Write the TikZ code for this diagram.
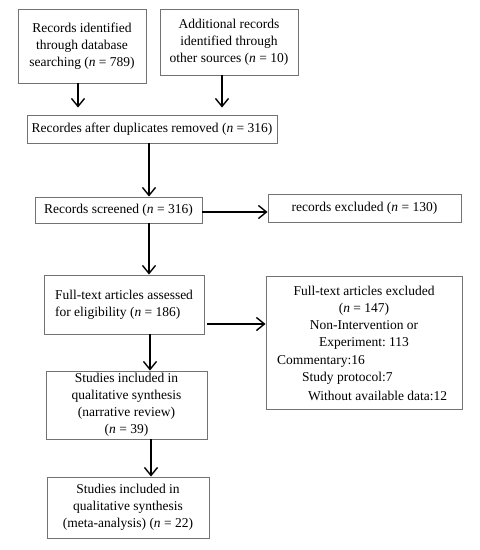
\documentclass[tikz,border=0pt]{standalone}
\usepackage{fontspec}
\setmainfont{Liberation Serif}
\usetikzlibrary{arrows.meta,calc}
\frenchspacing
\begin{document}
\begin{tikzpicture}[x=1pt,y=-1pt,
  box/.style={draw=black!55,line width=0.9pt,inner sep=0pt,font=\fontsize{13.5}{17}\selectfont},
  txt/.style={inner sep=0pt,font=\fontsize{13.5}{17}\selectfont},
  arr/.style={draw=black,line width=1.4pt,-{Straight Barb[length=8pt,width=13pt,line width=1.4pt]}}]
\useasboundingbox (0,0) rectangle (480,550);
\fill[white] (0,0) rectangle (480,550);
\node[box,minimum width=128pt,minimum height=74pt,align=center] (b1) at (82,46)
  {Records identified\\through database\\searching (\textit{n} = 789)};
\node[box,minimum width=138pt,minimum height=66pt,align=center] (b2) at (229,42)
  {Additional records\\identified through\\other sources (\textit{n} = 10)};
\node[box,minimum width=250pt,minimum height=28pt] (b3) at (152,129)
  {Recordes after duplicates removed (\textit{n} = 316)};
\node[box,minimum width=167pt,minimum height=26pt] (b4) at (118.5,210)
  {Records screened (\textit{n} = 316)};
\node[box,minimum width=193pt,minimum height=28pt] (e1) at (364.5,208)
  {records excluded (\textit{n} = 130)};
\node[box,minimum width=160pt,minimum height=59pt,align=left] (b5) at (124,304.5)
  {Full-text articles assessed\\for eligibility (\textit{n} = 186)};
\node[box,minimum width=196pt,minimum height=133pt] (e2) at (364,342.5) {};
\node[txt,align=center] (e2a) at (364,318)
  {Full-text articles excluded\\(\textit{n} = 147)\\Non-Intervention or\\Experiment: 113};
\node[txt,anchor=west] (e2b) at (277,361) {Commentary:16};
\node[txt,anchor=west] (e2c) at (302,378) {Study protocol:7};
\node[txt,anchor=west] (e2d) at (308,396) {Without available data:12};
\node[box,minimum width=161pt,minimum height=68pt,align=center] (b6) at (126.5,405)
  {Studies included in\\qualitative synthesis\\(narrative review)\\(\textit{n} = 39)};
\node[box,minimum width=162pt,minimum height=61pt,align=center] (b7) at (128,507.5)
  {Studies included in\\qualitative synthesis\\(meta-analysis) (\textit{n} = 22)};
\coordinate (x1) at (78,0);
\coordinate (x2) at (222,0);
\coordinate (x3) at (149,0);
\coordinate (x4) at (150,0);
\coordinate (x5) at (151,0);
\coordinate (y1) at (0,212);
\coordinate (y2) at (0,324);
\draw[arr,shorten >=7pt] (b1.south -| x1) -- (b3.north -| x1);
\draw[arr,shorten >=7pt] (b2.south -| x2) -- (b3.north -| x2);
\draw[arr] (b3.south -| x3) -- (b4.north -| x3);
\draw[arr] (b4.east |- y1) -- (e1.west |- y1);
\draw[arr] (b4.south -| x3) -- (b5.north -| x3);
\draw[arr,shorten <=3pt] (b5.east |- y2) -- (e2.west |- y2);
\draw[arr] (b5.south -| x4) -- (b6.north -| x4);
\draw[arr] (b6.south -| x5) -- (b7.north -| x5);
\end{tikzpicture}
\end{document}
